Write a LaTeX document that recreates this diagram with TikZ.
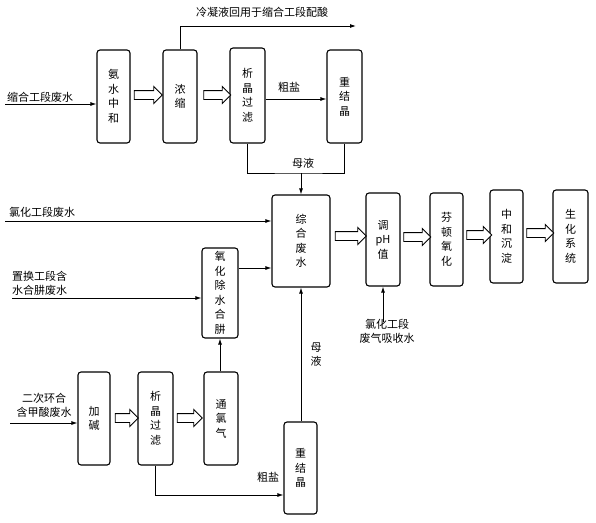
\documentclass[tikz,border=0pt]{standalone}
\usepackage{fontspec}
\newfontfamily\cjk{Noto Sans CJK SC}
\usetikzlibrary{shapes.arrows,arrows.meta}
\begin{document}
\begin{tikzpicture}[x=1pt,y=-1pt,
  box/.style={draw,line width=1.1pt,rounded corners=3pt,align=center,inner sep=0pt,
    font=\cjk\fontsize{11}{14.5}\selectfont},
  harrow/.style={draw,fill=white,line width=0.9pt,single arrow,inner xsep=0pt,inner ysep=4pt,
    single arrow head extend=4pt,minimum height=#1,shape border uses incircle=false},
  flow/.style={line width=0.9pt,-{Latex[length=6pt,width=4pt]}},
  plain/.style={line width=0.9pt},
  lbl/.style={font=\cjk\fontsize{11}{14}\selectfont,inner sep=0pt,align=center}]
\useasboundingbox (0,0) rectangle (596,522);
% boxes top row
\node[box,minimum width=33pt,minimum height=93pt] (nh) at (113.5,96.5) {氨\\水\\中\\和};
\node[box,minimum width=34pt,minimum height=93pt] (nc) at (180,96.5) {浓\\缩};
\node[box,minimum width=35pt,minimum height=95pt] (xj1) at (247.5,95.5) {析\\晶\\过\\滤};
\node[box,minimum width=35pt,minimum height=93pt] (cj1) at (344.5,96.5) {重\\结\\晶};
% middle row
\node[box,minimum width=58pt,minimum height=92pt] (zh) at (301,241) {综\\合\\废\\水};
\node[box,minimum width=34pt,minimum height=93pt] (ph) at (383,239.5) {调\\pH\\值};
\node[box,minimum width=33pt,minimum height=93pt] (fd) at (446.5,239.5) {芬\\顿\\氧\\化};
\node[box,minimum width=33pt,minimum height=93pt] (zc) at (506.5,236.5) {中\\和\\沉\\淀};
\node[box,minimum width=35pt,minimum height=93pt] (sh) at (570.5,236.5) {生\\化\\系\\统};
\node[box,minimum width=36pt,minimum height=90pt] (yh) at (220,293) {氧\\化\\除\\水\\合\\肼};
% bottom row
\node[box,minimum width=32pt,minimum height=93pt] (jj) at (94,418.5) {加\\碱};
\node[box,minimum width=35pt,minimum height=93pt] (xj2) at (155.5,418.5) {析\\晶\\过\\滤};
\node[box,minimum width=34pt,minimum height=93pt] (tl) at (221,418.5) {通\\氯\\气};
\node[box,minimum width=33pt,minimum height=92pt] (cj2) at (300.5,468) {重\\结\\晶};
% hollow arrows
\node[harrow=28pt] (a1) at (146,95) {};
\node[harrow=27pt] (a2) at (215,95) {};
\node[harrow=31pt] (a3) at (348.5,236) {};
\node[harrow=27pt] (a4) at (415,237) {};
\node[harrow=25pt] (a5) at (477,235) {};
\node[harrow=27pt] (a6) at (538,233) {};
\node[harrow=23pt] (a7) at (124.5,418) {};
\node[harrow=25pt] (a8) at (187.5,418) {};
% free end coordinates
\coordinate (in1) at (5,104);
\coordinate (cond) at (356,26);
\coordinate (y99) at (0,99);
\coordinate (m1) at (301,173);
\coordinate (in2) at (5,221);
\coordinate (y268) at (0,268);
\coordinate (in3) at (12,298);
\coordinate (in4) at (383,322);
\coordinate (in5) at (10,423);
\coordinate (y495) at (0,495);
% connectors
\draw[flow] (in1) -- (nh.west |- in1);
\draw[flow] (nc.north) |- (cond);
\draw[flow] (xj1.east |- y99) -- (cj1.west |- y99);
\draw[plain] (xj1.south) |- (m1) -| (cj1.south);
\draw[flow] (m1) -- (zh.north);
\draw[flow] (in2) -- (zh.west |- in2);
\draw[flow] (yh.east |- y268) -- (zh.west |- y268);
\draw[flow] (in3) -- (yh.west |- in3);
\draw[flow] (in4) -- (ph.south);
\draw[flow] (cj2.north -| zh.south) -- (zh.south);
\draw[flow] (tl.north -| yh.south) -- (yh.south);
\draw[flow] (in5) -- (jj.west |- in5);
\draw[flow] (xj2.south) |- (cj2.west |- y495);
% labels
\node[lbl] (t1) at (262,12) {冷凝液回用于缩合工段配酸};
\node[lbl,anchor=west] (t2) at (7,97) {缩合工段废水};
\node[lbl] (t3) at (289,87) {粗盐};
\node[lbl] (t4) at (303,163) {母液};
\node[lbl,anchor=west] (t5) at (9,212) {氯化工段废水};
\node[lbl,align=left,anchor=west] (t6) at (12,283) {置换工段含\\水合肼废水};
\node[lbl] (t7) at (387,331) {氯化工段\\废气吸收水};
\node[lbl] (t8) at (44,405) {二次环合\\含甲酸废水};
\node[lbl] (t9) at (316,355) {母\\液};
\node[lbl] (t10) at (268,477) {粗盐};
\end{tikzpicture}
\end{document}
